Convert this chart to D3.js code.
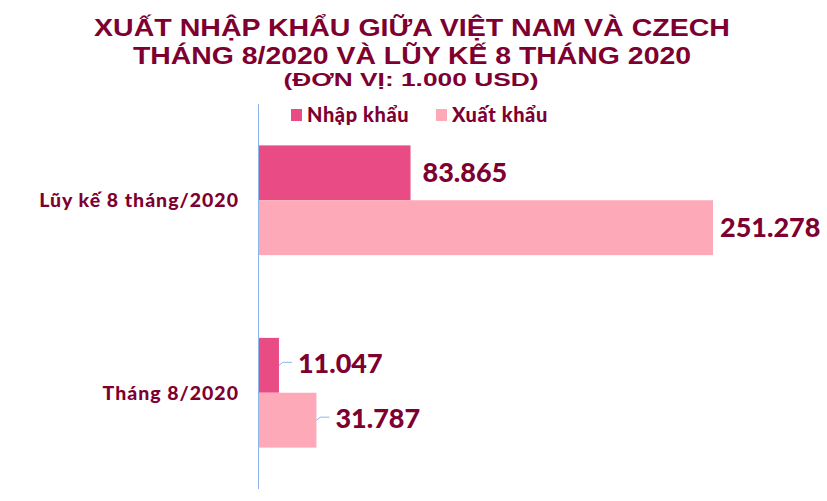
<!DOCTYPE html>
<html>
<head>
<meta charset="utf-8">
<script src="https://cdn.jsdelivr.net/npm/d3@7"></script>
<style>
  body { margin: 0; background: #fff; }
  svg { display: block; }
</style>
</head>
<body>
<svg id="chart" width="827" height="501"></svg>
<script>
// data
const categories = ["Lũy kế 8 tháng/2020", "Tháng 8/2020"];
const seriesNames = ["Nhập khẩu", "Xuất khẩu"];
const importValues = [83865, 11047];
const exportValues = [251278, 31787];
const titleLines = ["XUẤT NHẬP KHẨU GIỮA VIỆT NAM VÀ CZECH", "THÁNG 8/2020 VÀ LŨY KẾ 8 THÁNG 2020"];
const subtitle = "(ĐƠN VỊ: 1.000 USD)";

const colors = ["#e94c85", "#fda9b7"];
const textColor = "#7e0030";
const labelFont = "Lato, 'DejaVu Sans', sans-serif";

let svg = d3.select("#chart");
let margin = {left: 259, top: 104, right: 114, bottom: 12};
let width = +svg.attr("width") - margin.left - margin.right;
let height = +svg.attr("height") - margin.top - margin.bottom;

let rows = categories.map((c, i) => ({cat: c, values: [importValues[i], exportValues[i]]}));

let y0 = d3.scaleBand().domain(categories).range([0, height]).paddingInner(0.43).paddingOuter(0.215);
let y1 = d3.scaleBand().domain([0, 1]).range([0, y0.bandwidth()]);
let x = d3.scaleLinear().domain([0, 251278]).range([0, 454]);

// title (the original is a bit stretched sideways, so fit it to its width)
let title = svg.append("g").attr("font-family", "'Liberation Sans', Arial, sans-serif")
    .attr("font-weight", "bold").attr("fill", textColor).attr("text-anchor", "middle");
let titleWidths = [636, 558];
titleLines.forEach((t, i) => {
    title.append("text").attr("x", 412).attr("y", 36 + i * 28.3).attr("font-size", 24.5)
        .attr("textLength", titleWidths[i]).attr("lengthAdjust", "spacingAndGlyphs").text(t);
});
title.append("text").attr("x", 411).attr("y", 86).attr("font-size", 19)
    .attr("textLength", 255).attr("lengthAdjust", "spacingAndGlyphs").text(subtitle);

let g = svg.append("g").attr("transform", `translate(${margin.left}, ${margin.top})`);

let groups = g.selectAll(".grp")
    .data(rows)
    .enter()
    .append("g")
    .attr("class", "grp")
    .attr("transform", (d) => `translate(0, ${y0(d.cat)})`);

groups.selectAll("rect")
    .data((d) => d.values)
    .enter()
    .append("rect")
    .attr("x", 0)
    .attr("y", (d, i) => y1(i))
    .attr("width", (d) => x(d))
    .attr("height", y1.bandwidth())
    .attr("fill", (d, i) => colors[i]);

// value labels; short bars get a pushed-out label with a small leader line
groups.each(function(d) {
    let grp = d3.select(this);
    d.values.forEach((v, i) => {
        let w = x(v);
        let cy = y1(i) + y1.bandwidth() / 2;
        let short = w < 100;
        let lx = short ? w + 19 : w + (i == 0 ? 12 : 7);
        if (short) {
            grp.append("path")
                .attr("d", `M${w},${cy} L${w + 4},${cy - 3} L${w + 13},${cy - 3}`)
                .attr("fill", "none")
                .attr("stroke", "#8db5ea")
                .attr("stroke-width", 1);
        }
        grp.append("text")
            .attr("x", lx)
            .attr("y", short ? cy - 2 : cy)
            .attr("dy", "0.35em")
            .attr("font-family", labelFont)
            .attr("font-weight", 900)
            .attr("font-size", 27)
            .attr("fill", textColor)
            .text(d3.format(",")(v).replace(/,/g, "."));
    });
});

// category axis
g.append("line")
    .attr("x1", -0.5).attr("x2", -0.5)
    .attr("y1", 0).attr("y2", height)
    .attr("stroke", "#8db5ea").attr("stroke-width", 1);

g.selectAll(".cat")
    .data(categories)
    .enter()
    .append("text")
    .attr("class", "cat")
    .attr("x", -20)
    .attr("y", (d) => y0(d) + y0.bandwidth() / 2)
    .attr("dy", "0.35em")
    .attr("text-anchor", "end")
    .attr("font-family", labelFont)
    .attr("font-weight", 900)
    .attr("font-size", 19.5)
    .attr("letter-spacing", 1)
    .attr("fill", textColor)
    .text((d) => d);

// legend
let legend = svg.append("g").attr("transform", "translate(291, 109)");
let legendX = [0, 145];
seriesNames.forEach((s, i) => {
    legend.append("rect").attr("x", legendX[i]).attr("y", 0).attr("width", 11).attr("height", 12).attr("fill", colors[i]);
    legend.append("text").attr("x", legendX[i] + 16).attr("y", 13)
        .attr("font-family", labelFont).attr("font-weight", 900).attr("font-size", 20)
        .attr("letter-spacing", 0.6)
        .attr("fill", textColor).text(s);
});
</script>
</body>
</html>
